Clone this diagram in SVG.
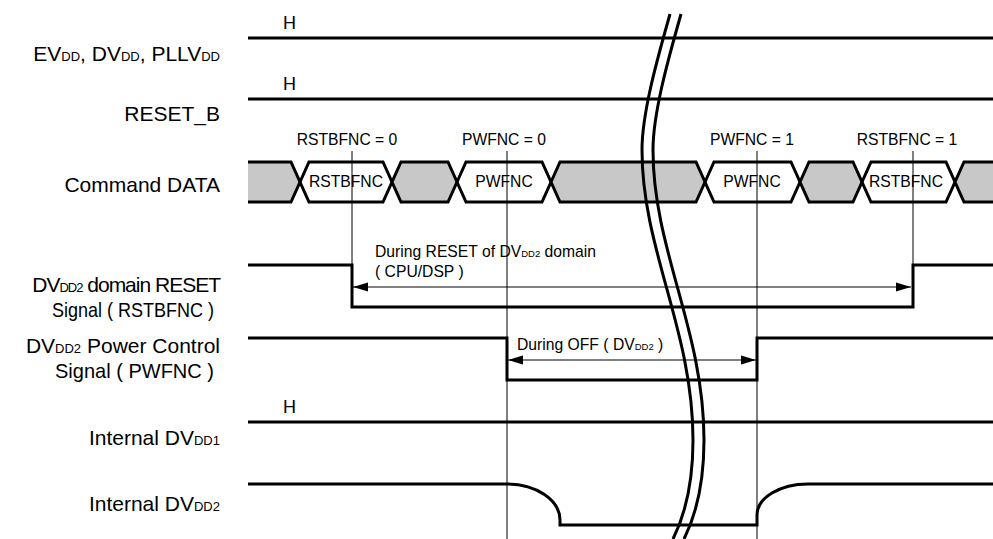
<svg xmlns="http://www.w3.org/2000/svg" width="993" height="539" viewBox="0 0 993 539">
<defs>
<style>
text{font-family:"Liberation Sans",Arial,sans-serif;fill:#000}
.lab{font-size:21px;text-anchor:end}
.sm{font-size:15.7px}
.c{text-anchor:middle}
.h{font-size:18px}
.sig{fill:none;stroke:#000;stroke-width:3}
.bus{stroke:#000;stroke-width:3;stroke-linejoin:miter}
.gray{fill:#c8c8c8}
.white{fill:none}
.thin{fill:none;stroke:#000;stroke-width:1}
.brk{fill:none;stroke:#000;stroke-width:3}
</style>
<marker id="ah" markerUnits="userSpaceOnUse" markerWidth="16" markerHeight="10" refX="15" refY="5" orient="auto-start-reverse">
<path d="M0,0.5 L15,5 L0,9.5 z" fill="#000"/>
</marker>
</defs>
<rect width="993" height="539" fill="#fff"/>

<g id="sig-evdd">
<text class="lab" x="220" y="61">EV<tspan font-size="13">DD</tspan>, DV<tspan font-size="13">DD</tspan>, PLLV<tspan font-size="13">DD</tspan></text>
<text class="h" x="283" y="29">H</text>
<line class="sig" x1="248" y1="38" x2="993" y2="38"/>
</g>

<g id="sig-resetb">
<text class="lab" x="220" y="121">RESET_B</text>
<text class="h" x="283" y="90">H</text>
<line class="sig" x1="248" y1="99" x2="993" y2="99"/>
</g>

<g id="sig-cmd">
<text class="lab" x="220" y="192">Command DATA</text>
<g class="bus">
<polygon class="gray" points="248,162 291,162 300,182 291,202 248,202" stroke="none"/>
<polyline fill="none" points="248,162 291,162 300,182 291,202 248,202"/>
<polygon class="white" points="300,182 309,162 383,162 392,182 383,202 309,202"/>
<polygon class="gray" points="392,182 401,162 448,162 457,182 448,202 401,202"/>
<polygon class="white" points="457,182 466,162 542,162 551,182 542,202 466,202"/>
<polygon class="gray" points="551,182 560,162 696,162 705,182 696,202 560,202"/>
<polygon class="white" points="705,182 714,162 791,162 800,182 791,202 714,202"/>
<polygon class="gray" points="800,182 809,162 853,162 862,182 853,202 809,202"/>
<polygon class="white" points="862,182 871,162 946,162 955,182 946,202 871,202"/>
<polygon class="gray" points="955,182 964,162 993,162 993,202 964,202" stroke="none"/>
<polyline fill="none" points="995,162 964,162 955,182 964,202 995,202"/>
</g>
<text class="sm c" x="346" y="187">RSTBFNC</text>
<text class="sm c" x="504" y="187">PWFNC</text>
<text class="sm c" x="752" y="187">PWFNC</text>
<text class="sm c" x="906" y="187">RSTBFNC</text>
<text class="sm c" x="347" y="145">RSTBFNC = 0</text>
<text class="sm c" x="504" y="145">PWFNC = 0</text>
<text class="sm c" x="752" y="145">PWFNC = 1</text>
<text class="sm c" x="907" y="145">RSTBFNC = 1</text>
</g>

<g id="sig-rstbfnc">
<text class="lab" x="220" y="292" letter-spacing="-1">DV<tspan font-size="13">DD2</tspan> domain RESET</text>
<text class="lab" x="214" y="317" textLength="162" lengthAdjust="spacingAndGlyphs">Signal ( RSTBFNC )</text>
<path class="sig" d="M248,265 H352 V307 H913 V265 H993"/>
<text class="sm" x="375" y="257">During RESET of DV<tspan font-size="9.5">DD2</tspan> domain</text>
<text class="sm" x="375" y="277">( CPU/DSP )</text>
</g>

<g id="sig-pwfnc">
<text class="lab" x="220" y="353">DV<tspan font-size="13">DD2</tspan> Power Control</text>
<text class="lab" x="214" y="378" textLength="159" lengthAdjust="spacingAndGlyphs">Signal ( PWFNC )</text>
<path class="sig" d="M248,338 H507 V380 H757 V338 H993"/>
<text class="sm" x="517" y="350">During OFF ( DV<tspan font-size="9.5">DD2</tspan> )</text>
</g>

<g id="sig-dvdd1">
<text class="lab" x="220" y="445">Internal DV<tspan font-size="13">DD1</tspan></text>
<text class="h" x="283" y="413">H</text>
<line class="sig" x1="248" y1="422" x2="993" y2="422"/>
</g>

<g id="sig-dvdd2">
<text class="lab" x="220" y="511">Internal DV<tspan font-size="13">DD2</tspan></text>
<path class="sig" d="M248,484 H507 A53,36 0 0 1 560,520 V525 H757 V515 A51,31 0 0 1 808,484 H993"/>
</g>

<g id="connectors">
<line class="thin" x1="352" y1="151" x2="352" y2="265"/>
<line class="thin" x1="507" y1="151" x2="507" y2="539"/>
<line class="thin" x1="757" y1="151" x2="757" y2="539"/>
<line class="thin" x1="913" y1="151" x2="913" y2="265"/>
<line class="thin" x1="353" y1="287" x2="911" y2="287" marker-start="url(#ah)" marker-end="url(#ah)"/>
<line class="thin" x1="508" y1="360" x2="756" y2="360" marker-start="url(#ah)" marker-end="url(#ah)"/>
</g>

<g id="break">
<path class="brk" d="M670,14 C660,50 642,110 642,150 C642,250 693,330 693,440 C693,480 685,515 673,539"/>
<path class="brk" d="M681,14 C671,50 653,110 653,150 C653,250 704,330 704,440 C704,480 696,515 684,539"/>
</g>
</svg>
